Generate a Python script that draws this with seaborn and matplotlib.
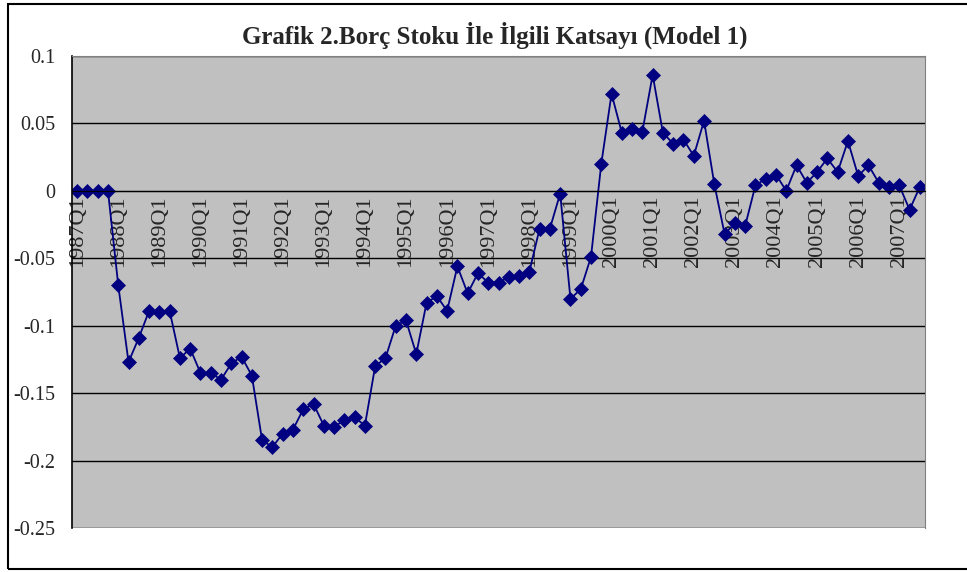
import numpy as np
import matplotlib
matplotlib.use("Agg")
import matplotlib.pyplot as plt
import pandas as pd
import seaborn as sns

# quarters 1987Q1 - 2007Q3
years = list(range(1987, 2008))
quarters = [f"{y}Q{q}" for y in years for q in range(1, 5)][:83]

katsayi = [0.000, 0.000, 0.000, 0.000,
           -0.070, -0.127, -0.109, -0.089,
           -0.090, -0.089, -0.124, -0.117,
           -0.135, -0.135, -0.140, -0.128,
           -0.123, -0.137, -0.185, -0.190,
           -0.180, -0.177, -0.162, -0.158,
           -0.174, -0.175, -0.170, -0.168,
           -0.174, -0.130, -0.124, -0.100,
           -0.096, -0.121, -0.083, -0.078,
           -0.089, -0.056, -0.076, -0.061,
           -0.068, -0.068, -0.064, -0.063,
           -0.060, -0.028, -0.028, -0.002,
           -0.080, -0.073, -0.049, 0.020,
           0.072, 0.043, 0.046, 0.044,
           0.086, 0.043, 0.035, 0.038,
           0.026, 0.052, 0.005, -0.032,
           -0.024, -0.026, 0.004, 0.009,
           0.012, 0.000, 0.019, 0.006,
           0.014, 0.024, 0.014, 0.037,
           0.011, 0.019, 0.006, 0.003,
           0.004, -0.014, 0.003]

df = pd.DataFrame({"donem": quarters, "katsayi": katsayi})
df["i"] = np.arange(len(df))

sns.set_style("white")
plt.rcParams["font.family"] = ["Liberation Serif", "DejaVu Serif"]

fig = plt.figure(figsize=(9.67, 5.72), dpi=100)
ax = fig.add_axes([72/967, 1-528/572, (925-72)/967, (528-56)/572])
ax.set_facecolor("#C0C0C0")

# x ekseni sifir cizgisinde
ax.spines["bottom"].set_position(("data", 0))

sns.lineplot(data=df, x="i", y="katsayi", ax=ax, color="#000080", linewidth=1.3,
             marker="D", markersize=7, markeredgecolor="#000080", markeredgewidth=0.5)

ax.set_xlim(-0.5, len(df) - 0.5)
ax.set_ylim(-0.25, 0.1)
yt = [0.1, 0.05, 0, -0.05, -0.1, -0.15, -0.2, -0.25]
ax.set_yticks(yt)
ax.set_yticklabels(["0.1", "0.05", "0", "-0.05", "-0.1", "-0.15", "-0.2", "-0.25"], fontsize=14.5)
for v in yt:
    ax.axhline(v, color="black", linewidth=1, zorder=1)

ax.set_xticks(df["i"][::4])
ax.set_xticklabels(df["donem"][::4], fontsize=16)
ax.set_xticks(np.arange(-0.5, len(df), 1), minor=True)
ax.tick_params(axis="x", which="major", length=0, pad=3, labelrotation=90)
ax.tick_params(axis="x", which="minor", length=5, width=1, direction="out", color="black")
ax.tick_params(axis="y", length=5, width=1, direction="out", color="black", pad=7)

ax.spines["bottom"].set_color("black")
ax.spines["left"].set_color("black")
ax.spines["left"].set_linewidth(1.2)
ax.spines["top"].set_color("#808080")
ax.spines["right"].set_color("#808080")
ax.set_xlabel("")
ax.set_ylabel("")

ax.set_title("Grafik 2.Borç Stoku İle İlgili Katsayı (Model 1)", fontsize=18,
             fontweight="bold", pad=9, x=(495-72)/853)

fig.patches.append(plt.Rectangle((8/967, 3/572), 1.0, 1-7/572, transform=fig.transFigure,
                                 fill=False, edgecolor="black", linewidth=1.5))

fig.savefig("out.png", dpi=100)
